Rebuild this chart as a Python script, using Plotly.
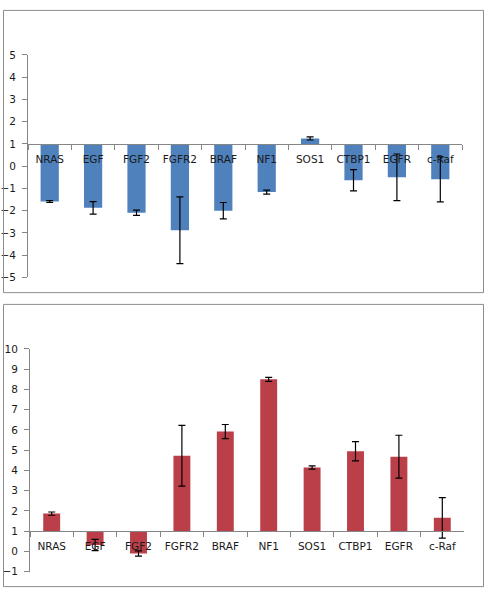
import plotly.graph_objects as go

categories = ["NRAS", "EGF", "FGF2", "FGFR2", "BRAF", "NF1", "SOS1", "CTBP1", "EGFR", "c-Raf"]

# Top panel: bar end values as read on the printed axis, and error half-widths
top_values = [-1.59, -1.87, -2.09, -2.88, -2.0, -1.16, 1.25, -0.63, -0.5, -0.59]
top_errors = [0.04, 0.28, 0.12, 1.5, 0.37, 0.09, 0.07, 0.48, 1.05, 1.01]

# Bottom panel
bottom_values = [1.87, 0.32, -0.1, 4.73, 5.92, 8.5, 4.15, 4.95, 4.68, 1.66]
bottom_errors = [0.08, 0.28, 0.13, 1.5, 0.35, 0.1, 0.08, 0.48, 1.06, 1.0]

baseline = 1  # the category axis crosses at this printed tick
top_ticks = [5, 4, 3, 2, 1, 0, -1, -2, -3, -4, -5]
bottom_ticks = [10, 9, 8, 7, 6, 5, 4, 3, 2, 1, 0, -1]

W, H = 488, 599
def px_x(p): return p / W
def px_y(p): return 1 - p / H

top_range = [-5, 5]
bot_range = [-1, 10]
top_dom_y = [px_y(277), px_y(50)]
bot_dom_y = [px_y(577.3), px_y(350)]
top_dom_x = [px_x(28), px_x(462)]
bot_dom_x = [px_x(30), px_x(464)]

def cross_pos(dom, rng):
    return dom[0] + (baseline - rng[0]) / (rng[1] - rng[0]) * (dom[1] - dom[0])

font = dict(family="DejaVu Sans", size=10.5, color="#1a1a1a")
axis_col = "#868686"

fig = go.Figure()
fig.add_trace(go.Bar(
    x=categories, y=[v - baseline for v in top_values], base=baseline,
    marker=dict(color="#4F81BD", line=dict(width=0)), width=0.42,
    error_y=dict(type="data", array=top_errors, color="black", thickness=1.2, width=3.5),
    xaxis="x", yaxis="y", showlegend=False,
))
fig.add_trace(go.Bar(
    x=categories, y=[v - baseline for v in bottom_values], base=baseline,
    marker=dict(color="#BB3F48", line=dict(width=0)), width=0.39,
    error_y=dict(type="data", array=bottom_errors, color="black", thickness=1.2, width=3.5),
    xaxis="x2", yaxis="y2", showlegend=False,
))

xcommon = dict(showline=True, linecolor=axis_col, linewidth=1, ticks="outside", ticklen=5,
               tickcolor=axis_col, tickson="boundaries", showgrid=False, zeroline=False,
               tickfont=font, anchor="free", ticklabelstandoff=5, fixedrange=True)
ycommon = dict(showline=True, linecolor=axis_col, linewidth=1, ticks="outside", ticklen=5,
               tickcolor=axis_col, showgrid=False, zeroline=False, tickfont=font,
               ticklabelstandoff=4, fixedrange=True)

fig.update_layout(
    width=W, height=H, margin=dict(l=0, r=0, t=0, b=0),
    paper_bgcolor="white", plot_bgcolor="rgba(0,0,0,0)",
    xaxis=dict(domain=top_dom_x, position=cross_pos(top_dom_y, top_range), **xcommon),
    yaxis=dict(domain=top_dom_y, range=top_range, anchor="x", tickvals=top_ticks,
               **ycommon),
    xaxis2=dict(domain=bot_dom_x, position=cross_pos(bot_dom_y, bot_range), **xcommon),
    yaxis2=dict(domain=bot_dom_y, range=bot_range, anchor="x2", tickvals=bottom_ticks,
                **ycommon),
    shapes=[
        dict(type="rect", xref="paper", yref="paper", x0=px_x(3.5), x1=px_x(483.5),
             y0=px_y(292.5), y1=px_y(4.5), line=dict(color="#8c8c8c", width=1)),
        dict(type="rect", xref="paper", yref="paper", x0=px_x(3.5), x1=px_x(483.5),
             y0=px_y(592.5), y1=px_y(304.5), line=dict(color="#8c8c8c", width=1)),
    ],
)

fig.write_html("out.html", config={"displayModeBar": False},
               post_script="document.body.style.margin='0';document.body.style.overflow='hidden';")
